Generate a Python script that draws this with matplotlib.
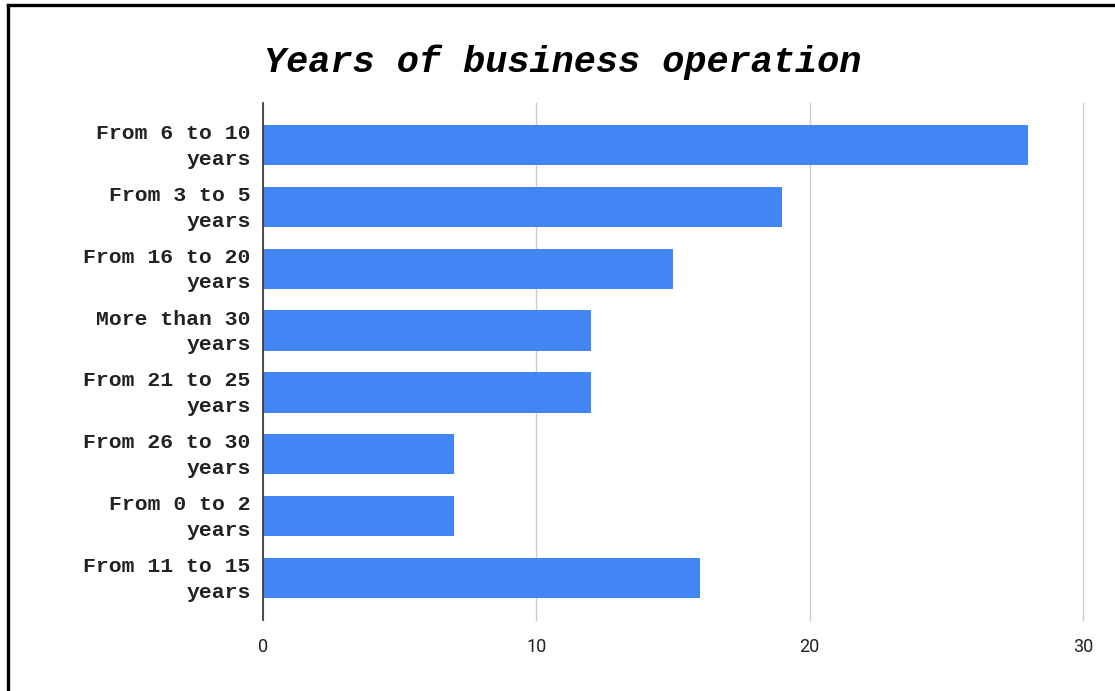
import matplotlib.pyplot as plt
import matplotlib.transforms as mtransforms
from matplotlib.lines import Line2D

categories = [
    'From 6 to 10\nyears',
    'From 3 to 5\nyears',
    'From 16 to 20\nyears',
    'More than 30\nyears',
    'From 21 to 25\nyears',
    'From 26 to 30\nyears',
    'From 0 to 2\nyears',
    'From 11 to 15\nyears',
]
counts = [28, 19, 15, 12, 12, 7, 7, 16]
x_ticks = [0, 10, 20, 30]

W, H = 1115, 691
fig = plt.figure(figsize=(W / 100, H / 100), dpi=100)
ax = fig.add_axes([263 / W, 1 - 620 / H, (1083 - 263) / W, (620 - 103) / H])

y_pos = list(range(len(categories)))
ax.barh(y_pos, counts, height=0.65, color='#4285F4', zorder=3)
ax.set_ylim(len(categories) - 1 + 0.68, -0.68)
ax.set_xlim(0, 30)

ax.set_yticks(y_pos)
ax.set_yticklabels(categories, family='Liberation Mono', fontweight='bold',
                   fontsize=15.4, color='#222222', linespacing=1.45)
ax.set_xticks(x_ticks)
ax.set_xticklabels([str(t) for t in x_ticks], family='Roboto', fontsize=13,
                   color='#222222')
ax.tick_params(axis='both', length=0)
ax.tick_params(axis='y', pad=9)
ax.tick_params(axis='x', pad=13)

# nudge the two-line labels up a little so they sit level with the bars
shift = mtransforms.ScaledTranslation(0, 4 / 100, fig.dpi_scale_trans)
for lbl in ax.get_yticklabels():
    lbl.set_transform(lbl.get_transform() + shift)

for s in ['top', 'right', 'bottom']:
    ax.spines[s].set_visible(False)
ax.spines['left'].set_color('#333333')
ax.spines['left'].set_linewidth(1.2)
ax.spines['left'].set_zorder(4)
ax.xaxis.grid(True, color='#cccccc', linewidth=1, zorder=0)
for gl in ax.get_xgridlines():
    gl.set_clip_on(False)

fig.text(563 / W, 1 - 62 / H, 'Years of business operation',
         family='Liberation Mono', fontweight='bold', fontstyle='italic',
         fontsize=26.6, ha='center', va='center', color='#000000')

# outer frame, only top and left edges fall inside the image
fig.add_artist(Line2D([8 / W, 8 / W], [0, 1 - 5 / H], transform=fig.transFigure,
                      color='black', linewidth=2.4))
fig.add_artist(Line2D([8 / W, 1], [1 - 5 / H, 1 - 5 / H], transform=fig.transFigure,
                      color='black', linewidth=2.4))

fig.savefig('out.png', dpi=100)
